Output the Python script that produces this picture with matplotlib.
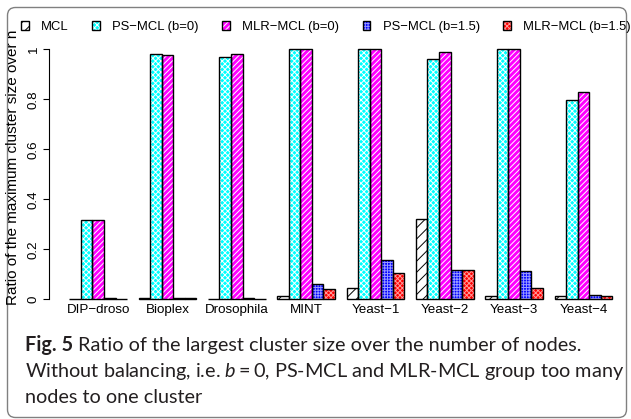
import matplotlib
matplotlib.use("Agg")
import matplotlib.pyplot as plt
from matplotlib.patches import FancyBboxPatch
from matplotlib.legend_handler import HandlerTuple
from matplotlib.transforms import Bbox

# ---------------- data ----------------
datasets = ["DIP\u2212droso", "Bioplex", "Drosophila", "MINT",
            "Yeast\u22121", "Yeast\u22122", "Yeast\u22123", "Yeast\u22124"]
series_names = ["MCL", "PS\u2212MCL (b=0)", "MLR\u2212MCL (b=0)",
                "PS\u2212MCL (b=1.5)", "MLR\u2212MCL (b=1.5)"]
mcl = [0.003, 0.004, 0.003, 0.012, 0.046, 0.320, 0.012, 0.014]
ps_b0 = [0.316, 0.980, 0.970, 1.000, 1.000, 0.960, 1.000, 0.798]
mlr_b0 = [0.316, 0.976, 0.982, 1.000, 1.000, 0.989, 1.000, 0.829]
ps_b15 = [0.005, 0.005, 0.004, 0.060, 0.156, 0.118, 0.112, 0.016]
mlr_b15 = [0.002, 0.006, 0.003, 0.042, 0.104, 0.118, 0.044, 0.012]
y_ticks = [0, 0.2, 0.4, 0.6, 0.8, 1]
y_ticklabels = ["0", "0.2", "0.4", "0.6", "0.8", "1"]
y_label = "Ratio of the maximum cluster size over n"
caption_bold = "Fig. 5"
caption_lines = ["Ratio of the largest cluster size over the number of nodes.",
                 "Without balancing, i.e. $b = 0$, PS-MCL and MLR-MCL group too many",
                 "nodes to one cluster"]

series_values = [mcl, ps_b0, mlr_b0, ps_b15, mlr_b15]
face_colors = ["#ffffff", "#00ffff", "#ff00ff", "#0000ff", "#ff0000"]
hatch_colors = ["#000000", "#ffffff", "#ffffff", "#9999ff", "#ff9999"]
hatches = ["///", "xxxxxx", "//////", "++++++", "xxxxxxx"]

# ---------------- figure ----------------
W, H = 631, 419
DPI = 100
plt.rcParams["hatch.linewidth"] = 0.7
plt.rcParams["font.family"] = ["Liberation Sans", "DejaVu Sans"]
plt.rcParams["mathtext.fontset"] = "custom"
plt.rcParams["mathtext.rm"] = "Lato"
plt.rcParams["mathtext.it"] = "Lato:italic"
plt.rcParams["mathtext.bf"] = "Lato:bold"

fig = plt.figure(figsize=(W / DPI, H / DPI), dpi=DPI)
fig.patch.set_facecolor("white")


def fx(x):
    return x / W


def fy(y):
    return 1 - y / H


AX_FS = 9.6

# bar geometry (in bar units, R barplot style: width 1, group gap 1)
unit_px = (612.3 - 69.3) / 47.0
origin_px = 69.3 - unit_px
ax_left_px, ax_right_px = 49.3, 624.0
ax_top_px, ax_bot_px = 39.5, 309.3
ax = fig.add_axes([fx(ax_left_px), fy(ax_bot_px),
                   (ax_right_px - ax_left_px) / W, (ax_bot_px - ax_top_px) / H])
ax.set_xlim((ax_left_px - origin_px) / unit_px, (ax_right_px - origin_px) / unit_px)
ax.set_ylim(-0.04, 1.04)
ax.patch.set_alpha(0)

n_groups = len(datasets)
fill_bars = []
edge_bars = []
for s, vals in enumerate(series_values):
    xs = [1 + 6 * g + s for g in range(n_groups)]
    fb = ax.bar(xs, vals, width=1, align="edge", color=face_colors[s],
                edgecolor=hatch_colors[s], linewidth=0, hatch=hatches[s], zorder=2)
    eb = ax.bar(xs, vals, width=1, align="edge", fill=False,
                edgecolor="black", linewidth=1.0, zorder=3)
    fill_bars.append(fb)
    edge_bars.append(eb)

for sp in ["top", "right", "bottom"]:
    ax.spines[sp].set_visible(False)
ax.spines["left"].set_bounds(0, 1)
ax.spines["left"].set_linewidth(0.8)
ax.set_yticks(y_ticks)
ax.set_yticklabels(y_ticklabels, rotation=90, va="center", fontsize=AX_FS)
ax.tick_params(axis="y", length=4.5, width=0.8, pad=2.5)

ax.set_xticks([3.5 + 6 * g for g in range(n_groups)])
ax.set_xticklabels(datasets, fontsize=AX_FS)
ax.tick_params(axis="x", length=0, pad=-3.5)

# legend
handles = [(fill_bars[i].patches[0], edge_bars[i].patches[0]) for i in range(5)]
fig.legend(handles, series_names, loc="center left",
           bbox_to_anchor=(fx(21), fy(27)), ncol=5, frameon=False,
           handlelength=0.6, handleheight=0.6, handletextpad=0.95,
           columnspacing=1.78, borderpad=0, borderaxespad=0, fontsize=9.4,
           handler_map={tuple: HandlerTuple(ndivide=1, pad=0)})

# y label (clipped at top like the reference)
yl = fig.text(fx(13), fy(305), y_label,
              rotation=90, ha="center", va="bottom", fontsize=11)
yl.set_clip_box(Bbox.from_extents(0, 0, W, H - 23))
yl.set_clip_on(True)

# border
border = FancyBboxPatch((7.5 / DPI, 1.5 / DPI), (626.5 - 7.5) / DPI, (417.5 - 7.5) / DPI,
                        boxstyle="round,pad=0,rounding_size=0.08",
                        transform=fig.dpi_scale_trans, fill=False,
                        edgecolor="#808080", linewidth=1.0)
fig.add_artist(border)

# caption
cap_fs = 14.3
cap_col = "#231f20"
renderer = fig.canvas.get_renderer()
t1 = fig.text(fx(25), fy(351), caption_bold, fontsize=cap_fs, fontweight="bold",
              family="Lato", va="baseline", color=cap_col)
ext = t1.get_window_extent(renderer)
fig.text((ext.x1 + 5) / W, fy(351), caption_lines[0],
         fontsize=cap_fs, family="Lato", va="baseline", color=cap_col)
fig.text(fx(25), fy(377), caption_lines[1],
         fontsize=cap_fs, family="Lato", va="baseline", color=cap_col)
fig.text(fx(25), fy(403), caption_lines[2],
         fontsize=cap_fs, family="Lato", va="baseline", color=cap_col)

fig.savefig("out.png", dpi=DPI)
